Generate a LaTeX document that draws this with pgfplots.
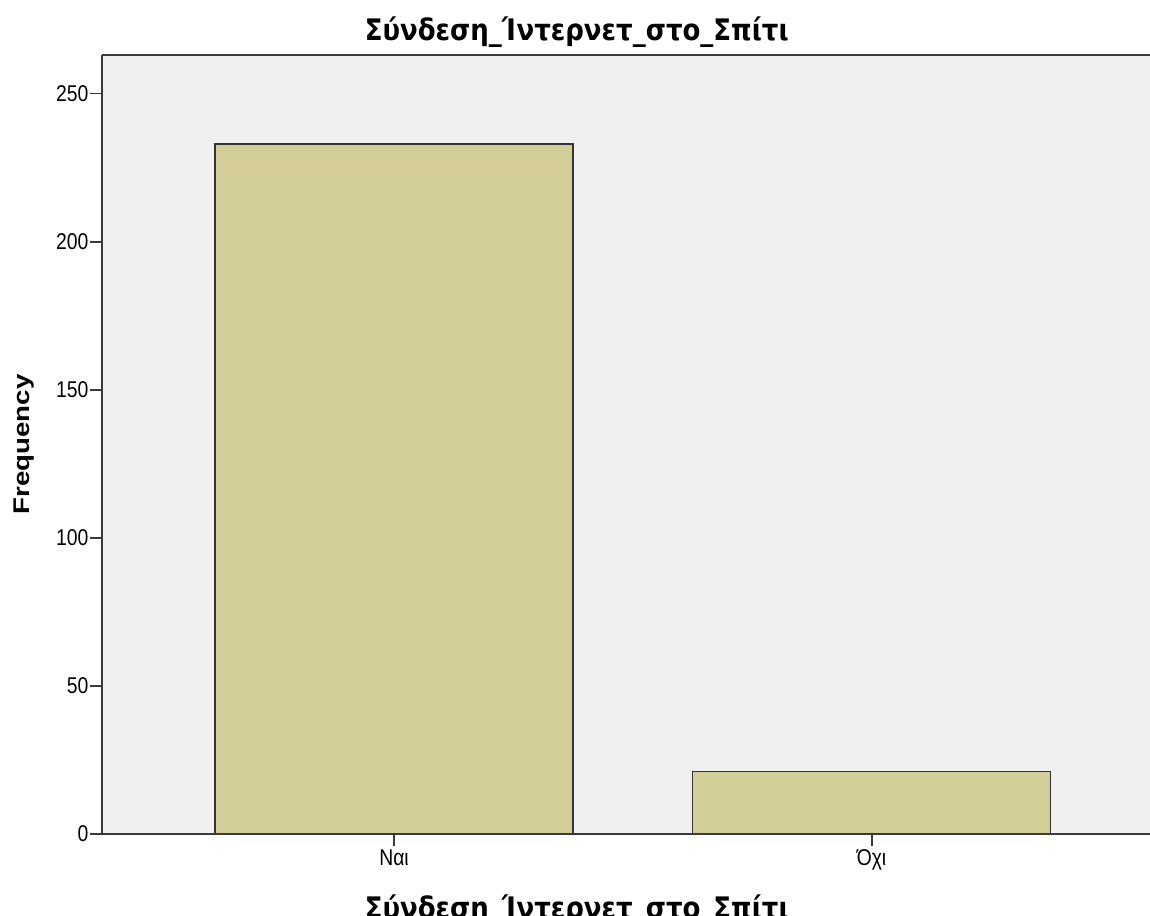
\documentclass[border=0pt]{standalone}
\usepackage{fontspec}
\setmainfont{Liberation Sans}
\newfontfamily\titlefont{DejaVu Sans}[BoldFont={DejaVu Sans Bold}]
\usepackage{graphicx}
\usepackage{pgfplots}
\pgfplotsset{compat=1.18}

\definecolor{panel}{HTML}{F0F0F0}
\definecolor{barfill}{HTML}{D3CE97}
\definecolor{axline}{HTML}{3A3A3A}

\newcommand{\vartitle}{\scalebox{1}[1.14]{\titlefont\bfseries Σύνδεση\_Ίντερνετ\_στο\_Σπίτι}}

\begin{document}
\begin{tikzpicture}
% page frame: 1px = 0.75pt
\path[use as bounding box] (-76.5pt,-60.75pt) rectangle (786pt,625.5pt);
\begin{axis}[
  scale only axis,
  width=786pt, height=584.25pt,
  xmin=-0.6115, xmax=1.583,
  ymin=0, ymax=263,
  axis background/.style={fill=panel},
  axis x line*=bottom, axis y line*=left,
  axis line style={-, line width=1.4pt, color=axline},
  axis on top,
  xtick={0,1},
  xticklabels={Ναι, Όχι},
  ytick={0,50,100,150,200,250},
  tick align=outside,
  major tick length=9pt,
  tick style={line width=1.4pt, color=axline},
  /pgf/number format/assume math mode=true,
  yticklabel style={font=\fontsize{14.5}{16}\selectfont, yscale=1.18, inner xsep=1pt},
  xticklabel style={font=\fontsize{14.5}{16}\selectfont, yscale=1.18, inner ysep=2pt},
  ylabel={\scalebox{1.22}[1]{\bfseries Frequency}},
  ylabel style={font=\fontsize{17}{19}\selectfont, at={(-0.0745,0.5)}, anchor=center},
  xlabel={\vartitle},
  xlabel style={font=\fontsize{19.5}{22}\selectfont, at={(0.453,0)}, anchor=base, yshift=-63.3pt},
  title={\vartitle},
  title style={font=\fontsize{19.5}{22}\selectfont, at={(0.453,1)}, anchor=base, yshift=4.5pt},
]
\addplot[ybar, bar width=0.75, fill=barfill, draw=black!80, line width=1pt]
  coordinates {(0,233) (1,21)};
\end{axis}
\draw[line width=1.4pt, color=axline] (0pt,584.25pt) -- (786pt,584.25pt);
\end{tikzpicture}
\end{document}
